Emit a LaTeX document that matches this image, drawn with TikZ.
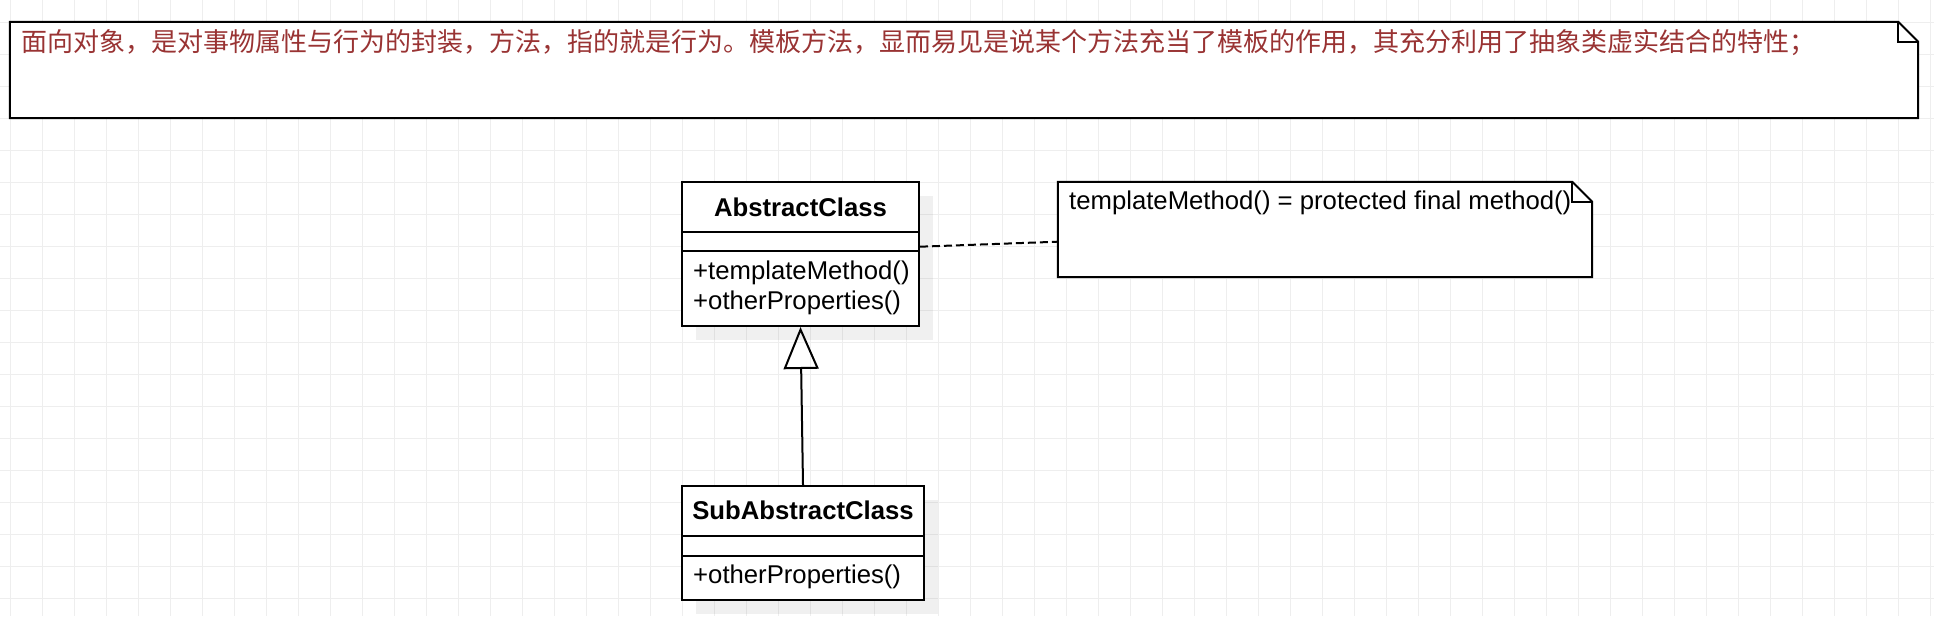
\documentclass[tikz,border=0pt]{standalone}
\usepackage{fontspec}
\setmainfont{Liberation Sans}
\newfontfamily\cjk{Noto Sans CJK SC}
\usetikzlibrary{arrows.meta,calc}
\definecolor{notered}{RGB}{153,51,51}
\definecolor{gridgray}{RGB}{238,238,238}
\tikzset{
  gridline/.style={draw=gridgray, line width=1pt},
  boxline/.style={draw=black, line width=2pt},
  classbox/.style={boxline, fill=white, rectangle, inner sep=0pt},
  shadowbox/.style={fill=black, fill opacity=0.06, draw=none},
  titletext/.style={font=\fontsize{25.7}{30}\selectfont\bfseries, inner sep=0pt},
  itemtext/.style={font=\fontsize{25.7}{30}\selectfont, inner sep=0pt, anchor=west},
  notetext/.style={font=\fontsize{26}{30}\cjk\selectfont, text=notered, inner sep=0pt, anchor=west},
  hidden/.style={draw=none, inner sep=0pt, rectangle}
}
\begin{document}
\begin{tikzpicture}[x=1pt,y=-1pt]
\useasboundingbox (0,0) rectangle (1934,616);
\fill[white] (0,0) rectangle (1934,616);
% grid
\foreach \i in {0,...,60} {\draw[gridline] ({10.7+32*\i},0) -- ({10.7+32*\i},616);}
\foreach \j in {0,...,18} {\draw[gridline] (0,{22.3+32*\j}) -- (1934,{22.3+32*\j});}

% top note
\node[hidden, minimum width=1908pt, minimum height=96pt] (n1) at (964,70) {};
\filldraw[boxline, fill=white] (n1.north west) -- ([xshift=-20pt]n1.north east) -- ([yshift=-20pt]n1.north east) -- (n1.south east) -- (n1.south west) -- cycle;
\draw[boxline] ([xshift=-20pt]n1.north east) -- ([xshift=-20pt,yshift=-20pt]n1.north east) -- ([yshift=-20pt]n1.north east);
\node[notetext] (t1) at (21,43) {面向对象，是对事物属性与行为的封装，方法，指的就是行为。模板方法，显而易见是说某个方法充当了模板的作用，其充分利用了抽象类虚实结合的特性；};

% AbstractClass
\fill[shadowbox] (696,196) rectangle (933,340);
\node[classbox, minimum width=237pt, minimum height=144pt] (ac) at (800.5,254) {};
\draw[boxline] (682,232) -- (919,232);
\draw[boxline] (682,251) -- (919,251);
\node[titletext] (acname) at (800.5,207) {AbstractClass};
\node[itemtext] (acm1) at (693,273) {+templateMethod()};
\node[itemtext] (acm2) at (693,303) {+otherProperties()};

% SubAbstractClass
\fill[shadowbox] (696,500) rectangle (938,614);
\node[classbox, minimum width=242pt, minimum height=114pt] (sub) at (803,543) {};
\draw[boxline] (682,536) -- (924,536);
\draw[boxline] (682,556) -- (924,556);
\node[titletext] (subname) at (803,510) {SubAbstractClass};
\node[itemtext] (subm1) at (693,577) {+otherProperties()};

% second note
\node[hidden, minimum width=534pt, minimum height=95pt] (n2) at (1325,229.5) {};
\filldraw[boxline, fill=white] (n2.north west) -- ([xshift=-20pt]n2.north east) -- ([yshift=-20pt]n2.north east) -- (n2.south east) -- (n2.south west) -- cycle;
\node[itemtext] (t2) at (1069,203) {templateMethod() = protected final method()};
\draw[boxline] ([xshift=-20pt]n2.north east) -- ([xshift=-20pt,yshift=-20pt]n2.north east) -- ([yshift=-20pt]n2.north east);

% connectors
\draw[line width=2pt, dash pattern=on 8pt off 4pt] ([yshift=7.3pt]ac.east) -- ([yshift=-12.2pt]n2.west);
\draw[line width=2pt, -{Triangle[open, length=42pt, width=35pt, line width=2pt]}] (sub.north) -- (ac.south);
\end{tikzpicture}
\end{document}
